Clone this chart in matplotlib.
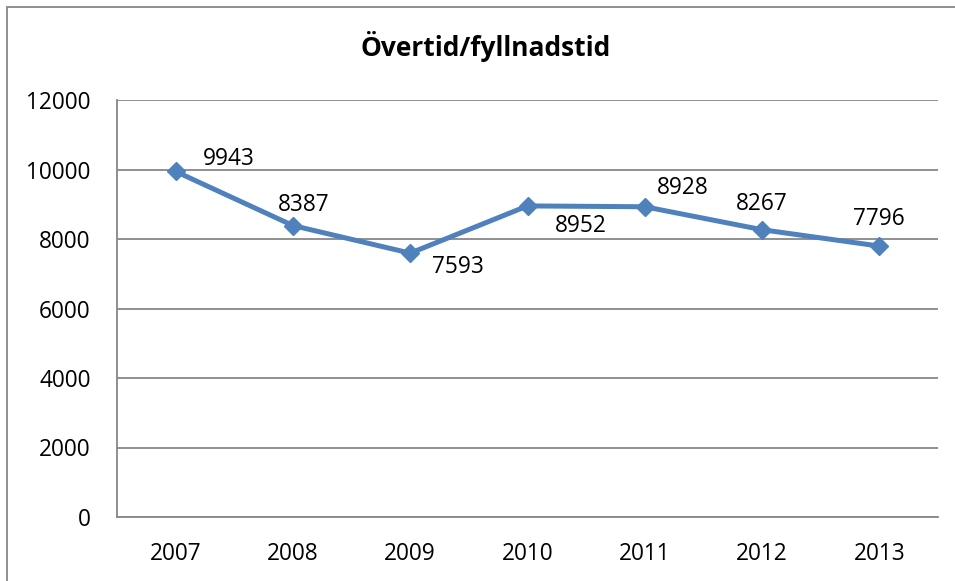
import matplotlib
matplotlib.use("Agg")
import matplotlib.pyplot as plt
from matplotlib.patches import Rectangle

years = ["2007", "2008", "2009", "2010", "2011", "2012", "2013"]
values = [9943, 8387, 7593, 8952, 8928, 8267, 7796]
label_offsets = [(53, 12), (11, 21), (48, -14), (53, -20), (38, 19), (0, 26), (0, 27)]
title = "Övertid/fyllnadstid"

plt.rcParams['font.family'] = ['Open Sans', 'DejaVu Sans']

W, H = 955, 581
fig = plt.figure(figsize=(W / 100, H / 100), dpi=100)
ax = fig.add_axes([117 / W, (H - 517) / H, (938 - 117) / W, (517 - 100) / H])

grid_c = "#878787"
x = list(range(len(years)))
ax.plot(x, values, color="#4F81BD", lw=3.6, marker="D", ms=9, zorder=3)

for xi, v, (dx, dy) in zip(x, values, label_offsets):
    ax.annotate(str(v), (xi, v), xytext=(dx, dy), textcoords="offset pixels",
                ha="center", va="center", fontsize=16.3, color="black")

ax.set_xlim(-0.5, 6.5)
ax.set_ylim(0, 12000)
ax.set_yticks(range(0, 12001, 2000))
ax.set_xticks(x)
ax.set_xticklabels(years)
ax.tick_params(axis="both", length=0, labelsize=16.3, colors="black")
ax.tick_params(axis="y", pad=19)
ax.tick_params(axis="x", pad=18)
ax.yaxis.grid(True, color=grid_c, lw=1.3)
ax.set_axisbelow(True)
for s in ["top", "right"]:
    ax.spines[s].set_visible(False)
for s in ["left", "bottom"]:
    ax.spines[s].set_color(grid_c)
    ax.spines[s].set_linewidth(1.3)

fig.text(486 / W, 1 - 47 / H, title, ha="center", va="center",
         fontsize=19, fontweight="bold")

fig.patches.append(Rectangle((7 / W, -0.1), 1.2, 1 - 7 / H + 0.1,
                             transform=fig.transFigure, fill=False,
                             edgecolor=grid_c, lw=1.3))

fig.savefig("out.png", dpi=100)
